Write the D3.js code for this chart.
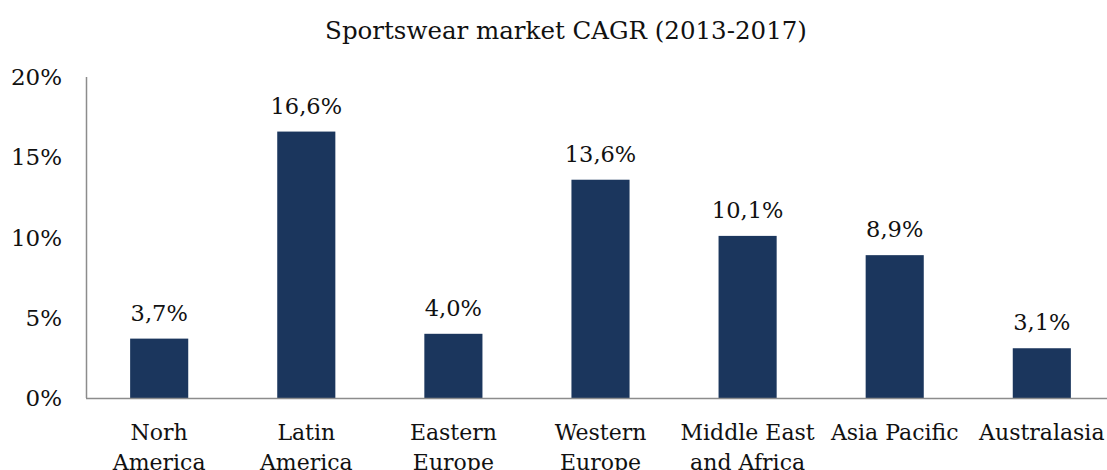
<!DOCTYPE html>
<html>
<head>
<meta charset="utf-8">
<script src="https://cdn.jsdelivr.net/npm/d3@7"></script>
<style>
  html, body { margin: 0; padding: 0; background: #fff; overflow: hidden; }
  text { font-family: 'DejaVu Serif', serif; fill: #111; }
</style>
</head>
<body>
<svg id="chart"></svg>
<script>
const regions = [
  ['Norh', 'America'],
  ['Latin', 'America'],
  ['Eastern', 'Europe'],
  ['Western', 'Europe'],
  ['Middle East', 'and Africa'],
  ['Asia Pacific'],
  ['Australasia'],
]
const cagr = [3.7, 16.6, 4.0, 13.6, 10.1, 8.9, 3.1]
const yTicks = [0, 5, 10, 15, 20]

const W = 1107, H = 470
const svg = d3.select('#chart').attr('width', W).attr('height', H)

const x = d3.scaleBand()
  .domain(d3.range(cagr.length))
  .range([86, 1115])
  .paddingInner(0.605)
  .paddingOuter(0.3)

const y = d3.scaleLinear().domain([0, 20]).range([398, 77])

// title
svg.append('text')
  .attr('x', 566).attr('y', 39)
  .attr('text-anchor', 'middle')
  .attr('font-size', '24.5px')
  .text('Sportswear market CAGR (2013-2017)')

// y axis line
svg.append('line')
  .attr('x1', 86.5).attr('x2', 86.5)
  .attr('y1', y(20)).attr('y2', y(0))
  .attr('stroke', '#8c8c8c').attr('stroke-width', 1.5)

// y tick labels
svg.append('g')
  .selectAll('text')
  .data(yTicks)
  .join('text')
    .attr('x', 62)
    .attr('y', d => y(d))
    .attr('dy', '0.35em')
    .attr('text-anchor', 'end')
    .attr('font-size', '23px')
    .text(d => d + '%')

// bars
svg.append('g')
  .selectAll('rect')
  .data(cagr)
  .join('rect')
    .attr('x', (d, i) => x(i))
    .attr('y', d => y(d))
    .attr('width', x.bandwidth())
    .attr('height', d => y(0) - y(d))
    .attr('fill', '#1b365d')

// x axis line
svg.append('line')
  .attr('x1', 86).attr('x2', W)
  .attr('y1', y(0) + 0.5).attr('y2', y(0) + 0.5)
  .attr('stroke', '#8c8c8c').attr('stroke-width', 1.5)

// value labels
svg.append('g')
  .selectAll('text')
  .data(cagr)
  .join('text')
    .attr('x', (d, i) => x(i) + x.bandwidth() / 2)
    .attr('y', d => y(d) - 18)
    .attr('text-anchor', 'middle')
    .attr('font-size', '22.5px')
    .text(d => d.toFixed(1).replace('.', ',') + '%')

// category labels (second lines run off the bottom edge, as in the source)
const cat = svg.append('g')
  .selectAll('text')
  .data(regions)
  .join('text')
    .attr('x', (d, i) => x(i) + x.bandwidth() / 2)
    .attr('y', 440)
    .attr('text-anchor', 'middle')
    .attr('font-size', '22px')

cat.selectAll('tspan')
  .data(d => d)
  .join('tspan')
    .attr('x', function () { return d3.select(this.parentNode).attr('x') })
    .attr('dy', (d, i) => i ? 30 : 0)
    .text(d => d)
</script>
</body>
</html>
